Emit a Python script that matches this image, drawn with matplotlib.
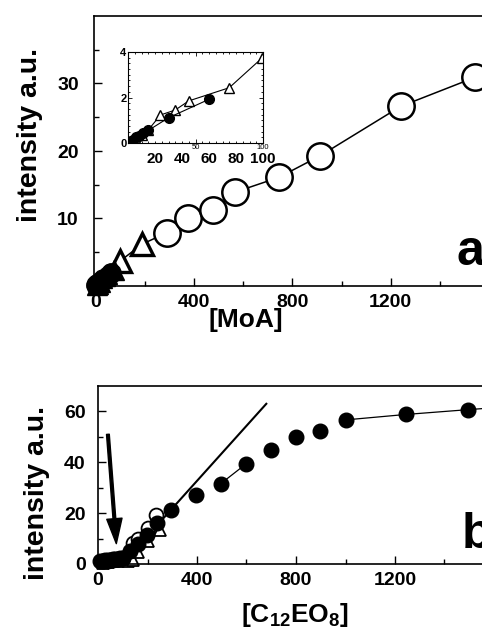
import matplotlib
matplotlib.use("Agg")
import matplotlib.pyplot as plt
from matplotlib.ticker import MultipleLocator, FixedLocator
import matplotlib.transforms as mtransforms

plt.rcParams["font.family"] = ["Liberation Sans", "DejaVu Sans"]
plt.rcParams["font.weight"] = "bold"
plt.rcParams["mathtext.default"] = "regular"

# panel a: MoA
tri_a_x = [5, 10, 15, 24, 35, 45, 75, 99, 188]
tri_a_y = [0.2, 0.35, 0.57, 1.23, 1.45, 1.85, 2.43, 3.72, 6.2]
fill_a_x = [2, 4, 6, 8, 11, 15, 30, 60]
fill_a_y = [0.08, 0.15, 0.25, 0.3, 0.42, 0.55, 1.11, 1.92]
circ_a_x = [289, 376, 477, 566, 745, 913, 1240, 1542]
circ_a_y = [7.9, 10.0, 11.2, 13.9, 16.1, 19.3, 26.6, 30.9]
inset_labels = ["20", "40", "60", "80", "100"]

# panel b: C12EO8
fill_b_x = [10, 20, 30, 40, 50, 60, 70, 80, 90, 100, 130, 160, 198, 240,
            296, 397, 496, 600, 698, 799, 896, 1004, 1243, 1495, 1750]
fill_b_y = [1.0, 1.2, 1.4, 1.5, 1.7, 1.8, 2.0, 2.1, 2.3, 2.5, 5.0, 8.0, 11.6, 16.0,
            21.4, 27.1, 31.6, 39.5, 44.7, 49.9, 52.2, 56.7, 58.8, 60.7, 62.5]
open_b_x = [20, 40, 60, 80, 100, 140, 160, 200, 236]
open_b_y = [1.0, 1.2, 1.5, 1.8, 2.5, 8.2, 10.0, 14.0, 19.2]
tri_b_x = [20, 40, 60, 80, 100, 120, 141, 160, 200, 249]
tri_b_y = [0.5, 0.7, 1.0, 1.2, 1.5, 1.0, 1.6, 4.8, 9.0, 13.3]
fit_x = [98, 680]
fit_y = [0, 63]
arrow_from = (40, 51)
arrow_to = (74, 8.0)

W, H = 482, 633
fig = plt.figure(figsize=(W / 100, H / 100), dpi=100)


def style(ax, pad_x, pad_y):
    ax.tick_params(which="both", direction="in", width=1, labelsize=14,
                   top=False, right=False)
    ax.tick_params(axis="x", pad=pad_x)
    ax.tick_params(axis="y", pad=pad_y)
    ax.tick_params(which="major", length=6)
    ax.tick_params(which="minor", length=3.5)
    for s in ax.spines.values():
        s.set_linewidth(1.2)


# ---- panel a ----
ax1 = fig.add_axes([94 / W, 1 - 286 / H, 395 / W, 270 / H])
ax1.plot(tri_a_x + circ_a_x[:1], tri_a_y + circ_a_y[:1], color="black", lw=1.1)
ax1.plot(circ_a_x, circ_a_y, "o", color="black", lw=1.1, ls="-", ms=19,
         mfc="white", mew=1.8, clip_on=False)
ax1.plot(tri_a_x[7:], tri_a_y[7:], "^", color="black", ms=16, mfc="white",
         mew=2.4, clip_on=False, zorder=3)
ax1.plot(tri_a_x[:7], tri_a_y[:7], "^", color="black", ms=14, clip_on=False,
         zorder=3)
ax1.plot(fill_a_x, fill_a_y, "o", color="black", ms=14, clip_on=False,
         zorder=3)
ax1.set_xlim(-8, 1600)
ax1.set_ylim(0, 40)
ax1.xaxis.set_major_locator(FixedLocator([0, 400, 800, 1200]))
ax1.xaxis.set_minor_locator(FixedLocator([200, 600, 1000, 1400]))
ax1.yaxis.set_major_locator(FixedLocator([10, 20, 30]))
ax1.yaxis.set_minor_locator(FixedLocator([5, 15, 25, 35]))
style(ax1, 6, 11)
fig.text(30 / W, 1 - 135 / H, "intensity a.u.", rotation=90, ha="center",
         va="center", fontsize=20.5, fontweight="bold")
fig.text(246 / W, 1 - 320 / H, "[MoA]", ha="center", va="center",
         fontsize=19, fontweight="bold")
fig.text(457 / W, 1 - 265 / H, "a", ha="left", va="baseline",
         fontsize=36, fontweight="bold")

# inset
axi = fig.add_axes([128 / W, 1 - 143 / H, 135 / W, 91 / H])
axi.plot(tri_a_x, tri_a_y, "^-", color="black", lw=0.8, ms=7, mfc="white",
         mew=1.0)
axi.plot(fill_a_x, fill_a_y, "o-", color="black", lw=0.8, ms=7)
axi.set_xlim(0, 100)
axi.set_ylim(0, 4)
axi.xaxis.set_major_locator(FixedLocator([50, 100]))
axi.xaxis.set_minor_locator(MultipleLocator(5))
axi.yaxis.set_major_locator(FixedLocator([0, 2, 4]))
axi.yaxis.set_minor_locator(MultipleLocator(0.25))
axi.tick_params(which="both", direction="in", top=True, right=True, width=0.6)
axi.tick_params(which="major", length=3)
axi.tick_params(which="minor", length=1.5)
axi.tick_params(axis="x", labelsize=5.5, pad=1)
axi.tick_params(axis="y", labelsize=8, pad=1)
for lab in axi.get_xticklabels():
    lab.set_fontweight("normal")
for s in axi.spines.values():
    s.set_linewidth(0.8)
trans = mtransforms.blended_transform_factory(axi.transData, axi.transAxes)
for lab in inset_labels:
    axi.text(float(lab), -0.22, lab, transform=trans, ha="center",
             va="baseline", fontsize=11, fontweight="bold")

# ---- panel b ----
ax2 = fig.add_axes([98 / W, 1 - 564 / H, 396 / W, 178 / H])
ax2.plot(fit_x, fit_y, color="black", lw=1.5)
ax2.plot(fill_b_x[16:18], fill_b_y[16:18], color="black", lw=0.9)
ax2.plot(fill_b_x[21:], fill_b_y[21:], color="black", lw=0.9)
ax2.plot(tri_b_x, tri_b_y, "^", color="black", ms=8, mfc="white", mew=1.3,
         clip_on=False)
ax2.plot(open_b_x, open_b_y, "o", color="black", ms=10, mfc="white", mew=1.3,
         clip_on=False)
ax2.plot(fill_b_x, fill_b_y, "o", color="black", ms=10.5, clip_on=False)
ax2.annotate("", xy=arrow_to, xytext=arrow_from,
             arrowprops=dict(facecolor="black", edgecolor="black", width=2.0,
                             headwidth=11, headlength=18, shrink=0))
ax2.set_xlim(0, 1600)
ax2.set_ylim(0, 70)
ax2.xaxis.set_major_locator(FixedLocator([0, 400, 800, 1200]))
ax2.xaxis.set_minor_locator(FixedLocator([200, 600, 1000, 1400]))
ax2.yaxis.set_major_locator(FixedLocator([0, 20, 40, 60]))
ax2.yaxis.set_minor_locator(FixedLocator([10, 30, 50]))
style(ax2, 6, 9)
fig.text(37 / W, 1 - 493 / H, "intensity a.u.", rotation=90, ha="center",
         va="center", fontsize=20.5, fontweight="bold")
fig.text(295 / W, 1 - 615 / H, "[C$_{12}$EO$_8$]", ha="center", va="center",
         fontsize=19, fontweight="bold")
fig.text(462 / W, 1 - 548 / H, "b", ha="left", va="baseline",
         fontsize=36, fontweight="bold")

fig.savefig("out.png", dpi=100)
